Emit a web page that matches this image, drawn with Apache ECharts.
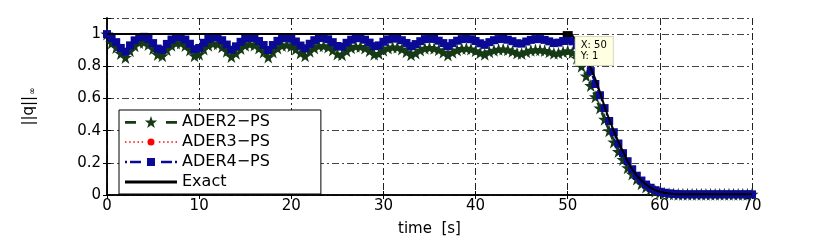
<!DOCTYPE html>
<html>
<head>
<meta charset="utf-8">
<script src="https://cdn.jsdelivr.net/npm/echarts@6/dist/echarts.min.js"></script>
<style>
  html, body { margin: 0; padding: 0; background: #fff; }
  #chart { width: 830px; height: 242px; }
</style>
</head>
<body>
<div id="chart"></div>
<script>
// sample times [s]
var times = [
  0, 0.5, 1, 1.5, 2, 2.5, 3, 3.5, 4, 4.5, 5, 5.5, 6, 6.5, 7, 7.5, 8, 8.5, 9, 9.5,
  10, 10.5, 11, 11.5, 12, 12.5, 13, 13.5, 14, 14.5, 15, 15.5, 16, 16.5, 17, 17.5, 18, 18.5, 19, 19.5,
  20, 20.5, 21, 21.5, 22, 22.5, 23, 23.5, 24, 24.5, 25, 25.5, 26, 26.5, 27, 27.5, 28, 28.5, 29, 29.5,
  30, 30.5, 31, 31.5, 32, 32.5, 33, 33.5, 34, 34.5, 35, 35.5, 36, 36.5, 37, 37.5, 38, 38.5, 39, 39.5,
  40, 40.5, 41, 41.5, 42, 42.5, 43, 43.5, 44, 44.5, 45, 45.5, 46, 46.5, 47, 47.5, 48, 48.5, 49, 49.5,
  50, 50.5, 51, 51.5, 52, 52.5, 53, 53.5, 54, 54.5, 55, 55.5, 56, 56.5, 57, 57.5, 58, 58.5, 59, 59.5,
  60, 60.5, 61, 61.5, 62, 62.5, 63, 63.5, 64, 64.5, 65, 65.5, 66, 66.5, 67, 67.5, 68, 68.5, 69, 69.5,
  70
];

var ader2 = [
  1.000, .944, .917, .880, .855, .896, .928, .947, .950, .936,
  .909, .873, .865, .902, .930, .945, .944, .929, .901, .866,
  .874, .907, .931, .942, .938, .921, .894, .861, .881, .911,
  .930, .938, .932, .914, .888, .857, .888, .913, .929, .933,
  .926, .908, .882, .865, .893, .914, .927, .928, .919, .901,
  .877, .872, .896, .915, .924, .923, .913, .896, .874, .879,
  .899, .914, .920, .918, .907, .891, .871, .883, .901, .912,
  .916, .912, .902, .887, .870, .887, .901, .910, .912, .907,
  .897, .884, .875, .890, .900, .906, .907, .902, .893, .882,
  .880, .891, .899, .903, .902, .898, .890, .881, .883, .891,
  .897,
  .885, .85, .80, .74, .68, .61, .54, .47, .40, .33, .27, .22,
  .17, .13, .10, .07, .05, .035, .024, .016, .011, .008, .006, .005,
  .004, .004, .004, .004, .004, .004, .004, .004,
  .004, .004, .004, .004, .004, .004, .004, .004
];

var ader3 = [
  1.000, .976, .951, .916, .893, .931, .962, .981, .984, .971,
  .945, .912, .905, .940, .967, .982, .981, .967, .942, .908,
  .916, .947, .971, .982, .979, .963, .937, .905, .926, .953,
  .973, .981, .976, .959, .934, .904, .934, .960, .976, .980,
  .973, .957, .932, .915, .943, .965, .978, .980, .971, .953,
  .930, .926, .950, .969, .979, .979, .969, .951, .930, .934,
  .956, .971, .978, .976, .966, .950, .930, .942, .960, .973,
  .977, .974, .963, .949, .931, .949, .963, .973, .976, .972,
  .962, .948, .939, .955, .967, .974, .975, .970, .961, .949,
  .947, .959, .969, .974, .974, .969, .960, .950, .953, .962,
  .970,
  .96, .935, .895, .835, .775, .695, .625, .545, .465, .395, .325, .265,
  .213, .163, .123, .092, .067, .047, .031, .021, .015, .011, .008, .006,
  .004, .004, .004, .004, .004, .004, .004, .004,
  .004, .004, .004, .004, .004, .004, .004, .004
];

var ader4 = [
  1.000, .975, .950, .914, .891, .930, .961, .980, .983, .970,
  .944, .910, .903, .939, .966, .981, .980, .966, .940, .906,
  .914, .946, .970, .981, .978, .962, .935, .903, .924, .952,
  .972, .980, .975, .957, .932, .901, .932, .958, .974, .978,
  .971, .954, .929, .912, .940, .962, .975, .977, .968, .950,
  .926, .922, .946, .965, .975, .975, .965, .947, .925, .930,
  .952, .967, .974, .972, .962, .945, .925, .938, .956, .969,
  .973, .970, .959, .944, .925, .944, .959, .969, .972, .968,
  .957, .943, .933, .950, .962, .969, .970, .965, .956, .943,
  .941, .954, .964, .969, .969, .964, .955, .944, .947, .957,
  .965,
  .955, .93, .89, .83, .77, .69, .62, .54, .46, .39, .32, .26,
  .21, .16, .12, .09, .065, .045, .03, .02, .014, .01, .007, .005,
  .004, .004, .004, .004, .004, .004, .004, .004,
  .004, .004, .004, .004, .004, .004, .004, .004
];

var exactTimes = [0, 50, 50.5, 51, 51.5, 52, 52.5, 53, 53.5, 54, 54.5, 55, 55.5, 56, 56.5,
  57, 57.5, 58, 58.5, 59, 59.5, 60, 60.5, 61, 61.5, 62, 70];
var exactValues = [1, 1, .99, .96, .92, .86, .79, .72, .64, .55, .47, .40, .33, .27, .21,
  .16, .12, .09, .065, .045, .03, .02, .014, .01, .007, .005, .004];

var yTicks = [0, 0.2, 0.4, 0.6, 0.8, 1];
var seriesNames = ['ADER2\u2212PS', 'ADER3\u2212PS', 'ADER4\u2212PS', 'Exact'];
var dataTip = { x: 50, y: 1 };

function pairs(xs, ys) {
  var out = [];
  for (var i = 0; i < xs.length; i++) {
    out.push([xs[i], ys[i]]);
  }
  return out;
}

var starPath = 'path://M50,0 L61,35 L98,35 L68,57 L79,91 L50,70 L21,91 L32,57 L2,35 L39,35 Z';
var font = 'DejaVu Sans';
var gridDash = [7, 3, 2, 3];

// legend icons (line sample + marker), drawn in a 52 x 14 box
var iconAder2 = 'path://M0,5.6 L11,5.6 L11,8.4 L0,8.4 Z M41,5.6 L52,5.6 L52,8.4 L41,8.4 Z ' +
  'M26,0.8 L27.53,5.2 L32.18,5.3 L28.47,8.1 L29.82,12.56 L26,9.9 L22.18,12.56 L23.53,8.1 L19.82,5.3 L24.47,5.2 Z';
var iconAder3 = 'path://M1,6.2 L2.4,6.2 L2.4,7.8 L1,7.8 Z M5,6.2 L6.4,6.2 L6.4,7.8 L5,7.8 Z M9,6.2 L10.4,6.2 L10.4,7.8 L9,7.8 Z ' +
  'M13,6.2 L14.4,6.2 L14.4,7.8 L13,7.8 Z M17,6.2 L18.4,6.2 L18.4,7.8 L17,7.8 Z ' +
  'M22.6,7 A3.4,3.4 0 1,0 29.4,7 A3.4,3.4 0 1,0 22.6,7 Z ' +
  'M33.6,6.2 L35,6.2 L35,7.8 L33.6,7.8 Z M37.6,6.2 L39,6.2 L39,7.8 L37.6,7.8 Z M41.6,6.2 L43,6.2 L43,7.8 L41.6,7.8 Z ' +
  'M45.6,6.2 L47,6.2 L47,7.8 L45.6,7.8 Z M49.6,6.2 L51,6.2 L51,7.8 L49.6,7.8 Z';
var iconAder4 = 'path://M0,5.8 L2,5.8 L2,8.2 L0,8.2 Z M5,5.8 L16,5.8 L16,8.2 L5,8.2 Z M22,3 L30,3 L30,11 L22,11 Z ' +
  'M36,5.8 L47,5.8 L47,8.2 L36,8.2 Z M50,5.8 L52,5.8 L52,8.2 L50,8.2 Z';
var iconExact = 'path://M0,5.5 L52,5.5 L52,8.5 L0,8.5 Z';

var chart = echarts.init(document.getElementById('chart'));
var option = {
  animation: false,
  backgroundColor: '#fff',
  textStyle: { fontFamily: font },
  grid: { left: 107, right: 78, top: 18, bottom: 38 },
  legend: {
    orient: 'vertical',
    left: 119,
    top: 110,
    data: [
      { name: seriesNames[0], icon: iconAder2 },
      { name: seriesNames[1], icon: iconAder3 },
      { name: seriesNames[2], icon: iconAder4 },
      { name: seriesNames[3], icon: iconExact }
    ],
    itemWidth: 52,
    itemHeight: 14,
    itemGap: 4,
    symbolKeepAspect: true,
    padding: [4, 51, 4, 6],
    borderColor: '#000',
    borderWidth: 1,
    backgroundColor: '#fff',
    textStyle: { fontFamily: font, fontSize: 16, color: '#000' }
  },
  xAxis: [{
    type: 'value',
    min: 0, max: 70, interval: 10,
    name: 'time  [s]',
    nameLocation: 'middle',
    nameGap: 27,
    nameTextStyle: { fontFamily: font, fontSize: 15, color: '#000' },
    axisLine: { lineStyle: { color: '#000', width: 1.5 } },
    axisTick: { inside: true, length: 4, lineStyle: { color: '#000' } },
    axisLabel: { fontFamily: font, fontSize: 15, color: '#000', margin: 4 },
    splitLine: { show: true, lineStyle: { color: '#222', width: 1, type: gridDash } }
  }, {
    type: 'value', position: 'top',
    min: 0, max: 70, interval: 10,
    axisLine: { show: true, lineStyle: { color: '#000', width: 1.5 } },
    axisTick: { inside: true, length: 4, lineStyle: { color: '#000' } },
    axisLabel: { show: false },
    splitLine: { show: false }
  }],
  yAxis: [{
    type: 'value',
    min: 0, max: 1.1, interval: 0.2,
    name: '||q||{sub|\u221e}',
    nameLocation: 'middle',
    nameRotate: 90,
    nameGap: 70,
    nameTextStyle: {
      fontFamily: font, fontSize: 15, color: '#000',
      rich: { sub: { fontSize: 9, verticalAlign: 'bottom', padding: [6, 0, 0, 1] } }
    },
    axisLine: { show: true, lineStyle: { color: '#000', width: 1.5 } },
    axisTick: { inside: true, length: 4, lineStyle: { color: '#000' } },
    axisLabel: {
      fontFamily: font, fontSize: 15, color: '#000', margin: 6,
      formatter: function (v) {
        var r = Math.round(v * 10) / 10;
        return yTicks.indexOf(r) >= 0 ? String(r) : '';
      }
    },
    splitLine: { show: true, lineStyle: { color: '#444', width: 1, type: gridDash } }
  }, {
    type: 'value', position: 'right',
    min: 0, max: 1.1, interval: 0.2,
    axisLine: { show: true, lineStyle: { color: '#000', width: 1.5 } },
    axisTick: { inside: true, length: 4, lineStyle: { color: '#000' } },
    axisLabel: { show: false },
    splitLine: { show: false }
  }],
  series: [{
    name: seriesNames[0],
    type: 'line',
    data: pairs(times, ader2),
    symbol: starPath,
    symbolSize: 13,
    showAllSymbol: true,
    itemStyle: { color: '#163a16' },
    lineStyle: { color: '#163a16', width: 2.5, type: [7, 4] },
    z: 2
  }, {
    name: seriesNames[1],
    type: 'line',
    data: pairs(times, ader3),
    symbol: 'circle',
    symbolSize: 4,
    showAllSymbol: true,
    itemStyle: { color: '#ff0000' },
    lineStyle: { color: '#ff0000', width: 1.2, type: [1.5, 2.5] },
    z: 3
  }, {
    name: seriesNames[2],
    type: 'line',
    data: pairs(times, ader4),
    symbol: 'rect',
    symbolSize: 8,
    showAllSymbol: true,
    itemStyle: { color: '#0a0a96' },
    lineStyle: { color: '#0a0a96', width: 2, type: [7, 3, 2, 3] },
    z: 4
  }, {
    name: seriesNames[3],
    type: 'line',
    data: pairs(exactTimes, exactValues),
    symbol: 'none',
    itemStyle: { color: '#000' },
    lineStyle: { color: '#000', width: 2 },
    z: 5,
    markPoint: {
      z: 10,
      symbol: 'rect',
      symbolSize: [10, 6],
      itemStyle: { color: '#000' },
      data: [{ coord: [dataTip.x, dataTip.y] }],
      label: {
        show: true,
        position: [13, 6],
        formatter: 'X: ' + dataTip.x + '\nY: ' + dataTip.y,
        fontFamily: font,
        fontSize: 10,
        lineHeight: 11,
        color: '#000',
        align: 'left',
        verticalAlign: 'top',
        backgroundColor: '#ffffe1',
        borderColor: '#d8d8c0',
        borderWidth: 1,
        padding: [3, 6, 3, 5]
      }
    }
  }]
};
chart.setOption(option);
</script>
</body>
</html>
